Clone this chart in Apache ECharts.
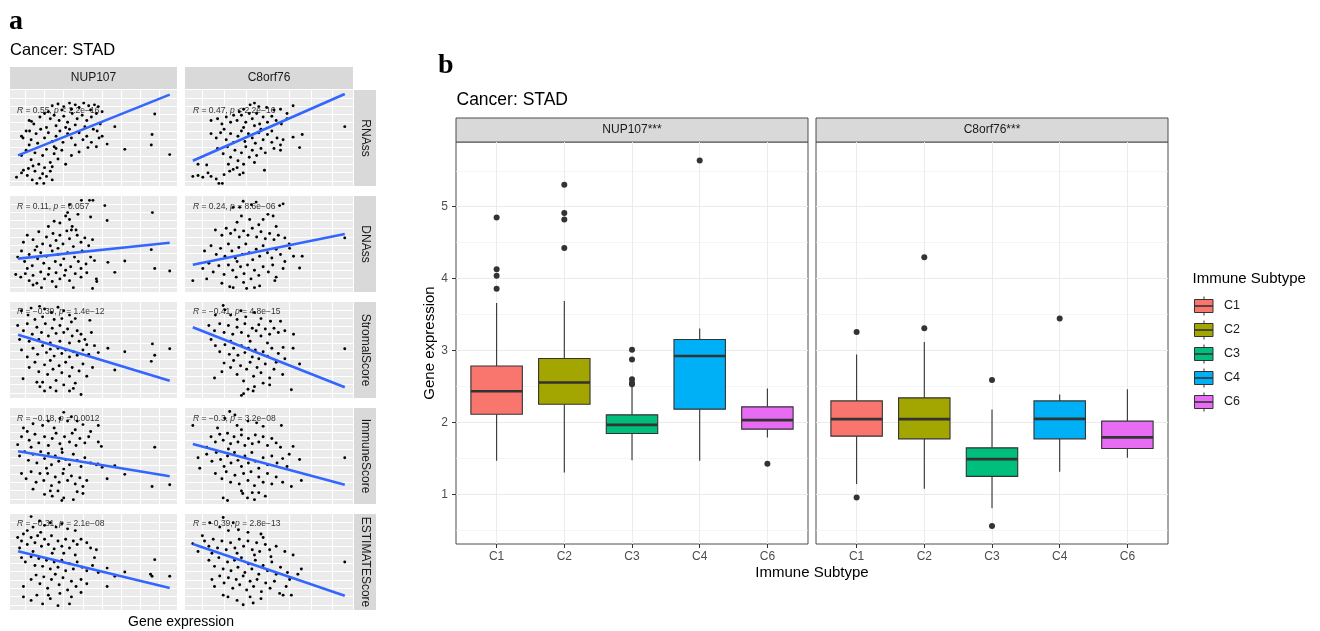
<!DOCTYPE html>
<html><head><meta charset="utf-8">
<script src="https://cdn.jsdelivr.net/npm/echarts@6/dist/echarts.min.js"></script>
<style>html,body{margin:0;padding:0;background:#fff}#c{width:1320px;height:631px}</style>
</head><body><div id="c"></div><script>
const FONT = '"Liberation Sans", Arial, Helvetica, sans-serif';
const SERIF = '"Liberation Serif", "Times New Roman", serif';

// ---------------- Panel a data ----------------
const genes = ['NUP107', 'C8orf76'];
const scores = ['RNAss', 'DNAss', 'StromalScore', 'ImmuneScore', 'ESTIMATEScore'];
const nupCor = ['R = 0.55, p < 2.2e\u221216', 'R = 0.11, p = 0.057', 'R = \u22120.39, p = 1.4e\u221212', 'R = \u22120.18, p = 0.0012', 'R = \u22120.31, p = 2.1e\u221208'];
const c8Cor = ['R = 0.47, p < 2.2e\u221216', 'R = 0.24, p = 8.6e\u221206', 'R = \u22120.41, p = 4.8e\u221215', 'R = \u22120.3, p = 3.2e\u221208', 'R = \u22120.39, p = 2.8e\u221213'];
// linear fit end points (x range, y at start / end) per score row
const nupFitX = [1.21, 5.16];
const c8FitX = [0.18, 3.68];
const nupFitY = [[0.301, 0.997], [0.332, 0.515], [0.675, 0.148], [0.554, 0.267], [0.623, 0.202]];
const c8FitY = [[0.24, 1.004], [0.263, 0.615], [0.76, 0.073], [0.637, 0.171], [0.706, 0.114]];
const nupGridX = [1.4, 1.9, 2.4, 2.9, 3.4, 3.9, 4.4, 4.9];
const c8GridX = [0.4, 0.9, 1.4, 1.9, 2.4, 2.9, 3.4];
const scoreGridY = [0.01, 0.105, 0.2, 0.295, 0.39, 0.485, 0.58, 0.675, 0.77, 0.865, 0.96];

const nupRNAss = [[2.1,0.87],[2.25,0.89],[2.4,0.86],[2.55,0.9],[2.7,0.88],[2.8,0.85],[2.92,0.9],[3.05,0.87],[3.2,0.88],[3.3,0.86],[2.6,0.83],[2.35,0.82],[2.0,0.8],[3.1,0.82],
[1.5,0.7],[1.62,0.66],[1.78,0.74],[1.9,0.78],[2.05,0.72],[2.15,0.76],[2.28,0.7],[2.4,0.75],[2.5,0.68],[2.62,0.78],[2.75,0.72],[2.88,0.76],[3.0,0.7],[3.12,0.74],[3.25,0.78],[3.4,0.8],[2.2,0.64],[2.45,0.62],[2.7,0.65],[2.95,0.63],[1.95,0.62],[3.35,0.66],
[1.3,0.52],[1.42,0.58],[1.55,0.48],[1.68,0.55],[1.8,0.6],[1.9,0.5],[2.0,0.56],[2.1,0.46],[2.2,0.52],[2.3,0.58],[2.38,0.45],[2.5,0.55],[2.6,0.5],[2.7,0.42],[2.8,0.56],[2.9,0.48],[3.0,0.52],[3.12,0.45],[3.25,0.4],[3.4,0.52],[1.5,0.42],[1.72,0.44],[2.15,0.4],[2.55,0.6],[3.17,0.6],[1.34,0.5],[1.51,0.58],[1.56,0.69],
[1.3,0.3],[1.42,0.36],[1.55,0.25],[1.65,0.33],[1.75,0.2],[1.85,0.3],[1.95,0.37],[2.05,0.22],[2.15,0.32],[2.25,0.26],[2.35,0.36],[2.45,0.2],[2.6,0.3],[2.8,0.34],[1.6,0.18],[1.9,0.16],[2.1,0.17],[2.2,0.38],
[1.17,0.05],[1.3,0.1],[1.35,0.13],[1.45,0.07],[1.58,0.02],[1.7,-0.02],[1.78,0.04],[1.85,0.09],[1.88,-0.02],[1.95,0.06],[2.05,0.12],[2.1,0.02],[1.65,0.12],[1.48,0.15],
[4.77,0.775],[4.7,0.54],[4.68,0.42],[5.16,0.31],[3.99,0.37],[3.53,0.43],[3.73,0.63],[3.27,0.58],[3.32,0.5],[3.03,0.39]];

const nupDNAss = [[2.86,1.0],[3.07,1.0],[3.16,1.0],[3.47,0.94],[2.55,0.95],[2.5,0.86],[2.45,0.82],[2.55,0.78],[2.77,0.84],[3.1,0.81],[3.53,0.77],[4.71,0.86],[2.3,0.74],[2.62,0.7],[2.0,0.7],[2.15,0.76],[2.72,0.66],
[1.45,0.6],[1.6,0.55],[1.75,0.64],[1.85,0.5],[1.95,0.58],[2.05,0.48],[2.12,0.62],[2.2,0.54],[2.3,0.6],[2.38,0.5],[2.48,0.65],[2.55,0.56],[2.65,0.47],[2.75,0.6],[2.85,0.52],[2.95,0.57],[3.05,0.48],[3.15,0.55],[1.7,0.47],[2.25,0.45],[2.6,0.66],[1.35,0.52],
[1.2,0.35],[1.3,0.42],[1.38,0.3],[1.5,0.38],[1.58,0.25],[1.65,0.43],[1.72,0.33],[1.8,0.4],[1.88,0.28],[1.95,0.36],[2.02,0.22],[2.1,0.42],[2.18,0.3],[2.25,0.38],[2.32,0.26],[2.4,0.33],[2.5,0.4],[2.58,0.24],[2.68,0.35],[2.78,0.3],[2.88,0.42],[2.98,0.27],[3.1,0.35],[3.2,0.31],[1.45,0.22],[2.45,0.2],[2.85,0.22],[3.55,0.29],[3.99,0.305],[4.68,0.435],
[1.15,0.15],[1.28,0.12],[1.4,0.16],[1.5,0.08],[1.6,0.14],[1.7,0.05],[1.8,0.18],[1.9,0.1],[2.0,0.15],[2.1,0.07],[2.2,0.17],[2.3,0.1],[2.42,0.14],[2.55,0.08],[2.7,0.16],[2.85,0.12],[3.0,0.17],[3.25,0.1],[3.26,0.07],[3.73,0.175],[4.77,0.22],[5.16,0.19],[1.82,0.0],[2.2,0.01],[2.65,0.0],[3.15,-0.01],[1.6,0.03]];

const nupStromal = [[1.3,0.95],[1.47,0.9],[1.55,0.98],[1.77,1.0],[1.9,0.97],[2.08,0.93],[2.25,0.99],[2.4,0.95],[2.55,0.9],[3.08,0.84],[1.65,0.85],[1.85,0.88],[2.15,0.85],[2.35,0.86],[2.6,0.82],[2.7,0.86],
[1.2,0.78],[1.35,0.72],[1.45,0.8],[1.58,0.68],[1.7,0.76],[1.82,0.7],[1.92,0.8],[2.0,0.66],[2.1,0.75],[2.2,0.69],[2.3,0.78],[2.4,0.7],[2.5,0.74],[2.62,0.66],[2.75,0.72],[2.85,0.68],[2.95,0.62],[3.12,0.7],[1.25,0.62],[1.5,0.6],[1.75,0.62],[2.05,0.58],[2.3,0.6],[2.55,0.58],[2.8,0.6],[3.0,0.56],
[1.3,0.5],[1.45,0.42],[1.6,0.52],[1.72,0.45],[1.85,0.55],[1.95,0.47],[2.05,0.51],[2.15,0.43],[2.25,0.52],[2.35,0.46],[2.45,0.5],[2.55,0.42],[2.65,0.48],[2.75,0.44],[2.9,0.5],[3.05,0.45],[3.3,0.47],[3.99,0.48],[4.71,0.57],[5.16,0.515],[3.55,0.52],[3.2,0.55],[4.77,0.44],
[1.34,0.17],[1.5,0.3],[1.65,0.36],[1.75,0.25],[1.85,0.13],[1.9,0.33],[1.98,0.22],[2.05,0.38],[2.12,0.28],[2.2,0.15],[2.28,0.32],[2.35,0.24],[2.45,0.36],[2.55,0.2],[2.62,0.3],[2.7,0.12],[2.8,0.26],[2.9,0.34],[3.0,0.2],[3.15,0.3],[3.73,0.27],[4.68,0.37],[2.4,0.1],[1.7,0.13],
[1.9,0.03],[2.2,0.03],[2.55,0.03],[2.85,-0.01],[1.78,0.08],[2.05,0.07],[2.65,0.06]];

const nupImmune = [[2.4,1.0],[2.6,0.95],[2.3,0.93],[2.5,0.9],[2.0,0.9],[2.75,0.9],[1.6,0.87],[1.35,0.82],[1.45,0.78],[1.85,0.85],[2.15,0.82],[2.9,0.86],[3.3,0.85],[2.7,0.8],[3.1,0.78],
[1.3,0.72],[1.5,0.68],[1.65,0.75],[1.75,0.65],[1.9,0.72],[2.0,0.62],[2.1,0.7],[2.2,0.76],[2.3,0.64],[2.42,0.72],[2.55,0.66],[2.62,0.76],[2.72,0.62],[2.82,0.7],[2.95,0.65],[3.05,0.72],[3.3,0.66],[3.38,0.61],[1.2,0.63],[1.55,0.6],[2.35,0.58],[4.77,0.6],
[1.25,0.5],[1.38,0.55],[1.48,0.45],[1.6,0.52],[1.7,0.42],[1.8,0.55],[1.9,0.47],[2.0,0.53],[2.08,0.4],[2.18,0.5],[2.27,0.44],[2.36,0.54],[2.45,0.46],[2.55,0.4],[2.65,0.52],[2.75,0.45],[2.85,0.38],[2.95,0.48],[3.1,0.42],[3.25,0.4],[3.4,0.37],[3.73,0.39],[3.29,0.41],[1.95,0.36],[2.4,0.35],
[1.3,0.3],[1.42,0.24],[1.55,0.32],[1.68,0.2],[1.78,0.3],[1.88,0.22],[1.98,0.3],[2.08,0.16],[2.18,0.26],[2.28,0.2],[2.38,0.3],[2.5,0.22],[2.6,0.27],[2.7,0.18],[2.82,0.25],[2.9,0.15],[3.0,0.22],[3.53,0.24],[3.99,0.29],[4.7,0.15],[5.16,0.17],[1.6,0.12],[2.25,0.1],
[1.9,0.06],[2.1,0.04],[2.4,0.02],[2.65,0.0],[2.35,-0.01],[2.9,0.07],[2.05,0.1],[2.75,0.09]];

const nupEstimate = [[1.55,1.02],[1.77,0.97],[1.9,0.92],[2.05,0.95],[2.2,0.9],[1.6,0.9],[2.35,0.94],[1.45,0.86],[2.5,0.88],[2.7,0.86],[1.8,0.84],
[1.2,0.78],[1.3,0.74],[1.35,0.82],[1.45,0.7],[1.55,0.78],[1.65,0.72],[1.72,0.8],[1.82,0.68],[1.9,0.76],[2.0,0.7],[2.08,0.8],[2.15,0.65],[2.25,0.74],[2.35,0.68],[2.45,0.76],[2.55,0.66],[2.65,0.74],[2.75,0.7],[2.85,0.76],[3.0,0.72],[3.1,0.66],[3.25,0.64],[1.25,0.66],[1.6,0.62],[2.1,0.6],[2.4,0.6],[2.7,0.58],
[1.3,0.55],[1.4,0.5],[1.55,0.56],[1.65,0.46],[1.75,0.54],[1.85,0.45],[1.95,0.52],[2.05,0.42],[2.15,0.5],[2.25,0.44],[2.35,0.52],[2.45,0.4],[2.55,0.48],[2.65,0.42],[2.75,0.5],[2.88,0.44],[3.0,0.4],[3.15,0.46],[3.3,0.38],[3.53,0.43],[3.99,0.385],[4.77,0.527],[4.7,0.336],[4.66,0.36],[5.16,0.336],[3.73,0.336],[3.2,0.55],
[1.35,0.22],[1.55,0.3],[1.68,0.35],[1.78,0.25],[1.88,0.33],[1.98,0.2],[2.08,0.3],[2.18,0.36],[2.28,0.24],[2.38,0.32],[2.5,0.18],[2.6,0.28],[2.72,0.22],[2.85,0.3],[3.0,0.25],[3.53,0.22],[1.7,0.12],[2.0,0.12],[2.3,0.14],[2.6,0.1],[2.85,0.15],
[1.55,0.06],[1.85,0.02],[2.05,0.08],[2.25,0.0],[2.55,0.02],[1.35,0.1]];

const c8RNAss = [[1.6,0.9],[1.5,0.88],[1.88,0.85],[2.49,0.87],[2.2,0.83],[1.35,0.83],[1.7,0.86],[2.05,0.82],[1.25,0.8],[2.35,0.78],
[0.6,0.7],[0.75,0.72],[0.85,0.66],[0.95,0.74],[1.05,0.68],[1.12,0.76],[1.2,0.7],[1.3,0.76],[1.4,0.68],[1.48,0.78],[1.55,0.72],[1.65,0.78],[1.72,0.66],[1.8,0.74],[1.9,0.68],[2.0,0.75],[2.1,0.7],[2.22,0.66],[2.35,0.72],[1.6,0.64],[1.35,0.62],[0.9,0.6],
[0.6,0.55],[0.72,0.5],[0.82,0.56],[0.95,0.48],[1.05,0.55],[1.12,0.45],[1.22,0.52],[1.3,0.58],[1.38,0.46],[1.46,0.55],[1.55,0.5],[1.62,0.44],[1.7,0.56],[1.8,0.48],[1.9,0.54],[2.0,0.45],[2.12,0.5],[2.2,0.42],[2.26,0.48],[2.49,0.51],[2.7,0.54],[3.68,0.63],[2.0,0.58],[1.75,0.6],
[0.75,0.38],[0.88,0.32],[0.98,0.4],[1.05,0.28],[1.15,0.36],[1.22,0.24],[1.3,0.33],[1.4,0.4],[1.48,0.28],[1.55,0.36],[1.65,0.3],[1.75,0.38],[1.85,0.33],[2.05,0.38],[2.2,0.36],[2.64,0.39],[1.0,0.2],[1.2,0.16],[1.35,0.2],[1.6,0.22],
[0.18,0.06],[0.3,0.07],[0.41,0.05],[0.53,0.1],[0.6,0.06],[0.72,0.03],[0.78,-0.02],[0.86,-0.02],[0.5,0.19],[0.3,0.2],[1.03,0.12],[1.11,0.14],[1.26,0.08],[1.34,0.1],[1.83,0.13],[0.9,0.08]];

const c8DNAss = [[1.34,0.99],[1.53,0.95],[1.64,0.98],[2.18,0.94],[2.26,0.96],[1.11,0.92],[1.26,0.92],[1.91,0.84],[2.03,0.82],[1.3,0.82],[1.49,0.78],[1.8,0.78],[1.2,0.75],[1.7,0.72],[2.1,0.7],
[0.7,0.66],[0.85,0.6],[0.95,0.68],[1.05,0.62],[1.15,0.66],[1.25,0.58],[1.35,0.65],[1.45,0.6],[1.55,0.68],[1.65,0.58],[1.75,0.64],[1.85,0.56],[1.95,0.62],[2.05,0.55],[2.15,0.6],[2.3,0.57],[2.4,0.5],[3.68,0.57],
[0.45,0.42],[0.6,0.48],[0.72,0.38],[0.82,0.45],[0.92,0.36],[1.0,0.5],[1.08,0.42],[1.16,0.34],[1.24,0.46],[1.32,0.38],[1.4,0.5],[1.48,0.4],[1.56,0.32],[1.64,0.44],[1.72,0.36],[1.8,0.48],[1.9,0.4],[2.0,0.34],[2.1,0.44],[2.2,0.38],[2.41,0.45],[2.5,0.36],[2.7,0.36],[2.3,0.3],[1.2,0.3],
[0.41,0.22],[0.55,0.28],[0.65,0.18],[0.78,0.25],[0.9,0.15],[1.0,0.26],[1.1,0.2],[1.18,0.12],[1.28,0.24],[1.36,0.16],[1.44,0.26],[1.52,0.1],[1.6,0.2],[1.7,0.14],[1.8,0.24],[1.92,0.18],[2.02,0.26],[2.26,0.22],[2.64,0.225],[2.1,0.12],[0.18,0.08],[0.5,0.1],
[1.03,0.01],[1.11,0.0],[1.42,-0.01],[1.6,0.0],[1.72,0.02],[2.07,0.08],[1.35,0.06],[0.85,0.05]];

const c8Stromal = [[0.88,1.01],[0.92,0.96],[1.29,0.95],[1.05,0.9],[1.6,0.93],[1.4,0.88],[1.97,0.83],[2.2,0.83],[1.2,0.85],[0.7,0.9],[1.75,0.86],
[0.55,0.78],[0.68,0.72],[0.8,0.8],[0.9,0.7],[1.0,0.78],[1.1,0.68],[1.2,0.76],[1.3,0.7],[1.38,0.8],[1.46,0.66],[1.55,0.75],[1.64,0.72],[1.7,0.79],[1.75,0.66],[1.85,0.74],[1.95,0.68],[2.05,0.75],[2.15,0.7],[2.3,0.72],[2.5,0.68],[0.6,0.62],[1.05,0.6],[1.5,0.6],[1.9,0.58],
[0.7,0.55],[0.8,0.48],[0.92,0.56],[1.02,0.45],[1.12,0.52],[1.22,0.44],[1.3,0.55],[1.38,0.47],[1.46,0.52],[1.55,0.42],[1.62,0.5],[1.7,0.4],[1.8,0.48],[1.9,0.43],[2.0,0.52],[2.15,0.46],[2.3,0.4],[2.49,0.52],[3.68,0.515],[2.26,0.53],[2.64,0.34],[2.1,0.36],
[0.68,0.18],[0.85,0.25],[0.9,0.35],[1.05,0.3],[1.12,0.38],[1.2,0.22],[1.28,0.32],[1.35,0.145],[1.42,0.28],[1.5,0.36],[1.58,0.2],[1.66,0.3],[1.75,0.24],[1.85,0.34],[1.95,0.18],[2.05,0.28],[2.25,0.22],[1.8,0.12],[1.6,0.08],[2.45,0.045],
[1.35,0.0],[1.57,0.03],[1.45,0.05],[1.95,0.1],[1.3,-0.02]];

const c8Immune = [[1.03,1.01],[1.15,0.97],[0.92,0.93],[1.2,0.85],[1.45,0.9],[0.18,0.85],[1.65,0.88],[1.8,0.84],[2.22,0.85],[0.75,0.82],[1.3,0.8],
[0.6,0.72],[0.7,0.66],[0.8,0.75],[0.88,0.68],[0.98,0.76],[1.05,0.64],[1.13,0.72],[1.22,0.66],[1.3,0.74],[1.38,0.62],[1.46,0.7],[1.55,0.64],[1.62,0.74],[1.7,0.66],[1.8,0.72],[1.9,0.62],[2.0,0.7],[2.1,0.65],[2.49,0.61],[0.5,0.6],[2.2,0.6],[1.0,0.58],
[0.3,0.48],[0.34,0.36],[0.5,0.52],[0.62,0.44],[0.72,0.54],[0.82,0.46],[0.9,0.38],[0.98,0.5],[1.06,0.42],[1.14,0.54],[1.22,0.45],[1.3,0.38],[1.38,0.5],[1.46,0.42],[1.54,0.54],[1.62,0.44],[1.7,0.36],[1.8,0.48],[1.9,0.4],[2.0,0.5],[2.12,0.42],[2.25,0.47],[2.35,0.38],[2.64,0.46],[3.68,0.48],[2.4,0.52],
[0.7,0.3],[0.85,0.24],[0.95,0.32],[1.05,0.2],[1.15,0.28],[1.25,0.18],[1.35,0.3],[1.45,0.22],[1.52,0.32],[1.6,0.16],[1.7,0.26],[1.8,0.2],[1.9,0.3],[2.0,0.18],[2.1,0.26],[2.25,0.2],[2.68,0.22],[2.45,0.15],[1.3,0.1],[1.55,0.08],
[0.88,0.02],[0.98,-0.01],[1.44,0.02],[1.6,0.0],[1.33,0.07],[1.85,0.04],[1.7,0.08]];

const c8Estimate = [[0.88,1.01],[0.57,0.95],[1.11,0.95],[1.23,0.87],[0.8,0.9],[1.0,0.86],[1.75,0.82],[1.8,0.78],[1.45,0.84],[0.4,0.8],
[0.18,0.71],[0.3,0.62],[0.45,0.74],[0.55,0.68],[0.65,0.76],[0.75,0.66],[0.85,0.74],[0.95,0.64],[1.05,0.72],[1.15,0.66],[1.25,0.76],[1.35,0.68],[1.45,0.74],[1.55,0.64],[1.65,0.72],[1.72,0.62],[1.85,0.7],[1.95,0.64],[2.1,0.68],[2.49,0.58],[0.62,0.6],[1.2,0.6],[1.6,0.58],[2.3,0.62],
[0.55,0.52],[0.68,0.45],[0.78,0.55],[0.88,0.42],[0.98,0.5],[1.06,0.4],[1.14,0.52],[1.22,0.44],[1.3,0.55],[1.38,0.38],[1.46,0.48],[1.54,0.42],[1.62,0.52],[1.7,0.36],[1.8,0.46],[1.9,0.4],[2.0,0.5],[2.1,0.36],[2.2,0.44],[2.36,0.38],[2.68,0.42],[2.6,0.36],[3.68,0.5],[1.98,0.56],
[0.68,0.22],[0.62,0.3],[0.8,0.34],[0.9,0.26],[1.0,0.32],[1.1,0.2],[1.18,0.3],[1.26,0.24],[1.34,0.34],[1.42,0.18],[1.5,0.28],[1.58,0.22],[1.66,0.3],[1.76,0.16],[1.86,0.26],[1.96,0.2],[2.06,0.28],[2.41,0.3],[2.33,0.22],[2.18,0.14],[2.26,0.12],[2.45,0.12],
[0.88,0.12],[0.99,0.1],[1.34,0.01],[1.57,0.03],[1.75,0.08],[1.2,0.06],[1.5,0.1]];

// ---------------- Panel b data ----------------
const subtypes = ['C1', 'C2', 'C3', 'C4', 'C6'];
const subtypeColors = ['#F8766D', '#A3A500', '#00BF7D', '#00B0F6', '#E76BF3'];
const facets = ['NUP107***', 'C8orf76***'];
// [lower whisker, Q1, median, Q3, upper whisker]
const nupBox = [[1.467, 2.115, 2.435, 2.786, 3.661], [1.305, 2.254, 2.556, 2.889, 3.69], [1.476, 1.847, 1.967, 2.106, 2.495], [1.467, 2.185, 2.925, 3.153, 3.306], [1.792, 1.907, 2.032, 2.217, 2.472]];
const nupOut = [[4.85, 4.13, 4.04, 3.86], [5.306, 4.911, 4.824, 4.425], [3.01, 2.875, 2.6, 2.55, 2.53], [5.643], [1.425]];
const c8Box = [[1.143, 1.81, 2.046, 2.3, 2.944], [1.078, 1.772, 2.046, 2.342, 3.12], [0.806, 1.25, 1.49, 1.647, 2.18], [1.314, 1.772, 2.05, 2.3, 2.389], [1.508, 1.639, 1.792, 2.018, 2.462]];
const c8Out = [[3.258, 0.958], [4.296, 3.31], [2.592, 0.56], [3.444], []];
const bTicks = [1, 2, 3, 4, 5];
const bMinor = [0.5, 1.5, 2.5, 3.5, 4.5, 5.5];

// ---------------- Build ----------------
const grids = [], xAxes = [], yAxes = [], series = [], graphics = [];
const panelData = [[nupRNAss, nupDNAss, nupStromal, nupImmune, nupEstimate], [c8RNAss, c8DNAss, c8Stromal, c8Immune, c8Estimate]];
const colCfg = [
  {left: 10, width: 167, min: 1, max: 5.35, gx: nupGridX, fitX: nupFitX, fitY: nupFitY, cor: nupCor, textX: 17},
  {left: 185, width: 168, min: 0, max: 3.87, gx: c8GridX, fitX: c8FitX, fitY: c8FitY, cor: c8Cor, textX: 193}
];
const rowTops = [90, 196, 302, 408, 514], rowH = 96, corDy = [21, 10.5, 10, 10.5, 10];

function corRich(s) { return s.replace(/^R/, '{i|R}').replace(', p', ', {i|p}'); }
function txt(x, y, text, size, opts) {
  opts = opts || {};
  const el = {type: 'text', x: x, y: y, z: opts.z != null ? opts.z : 5, rotation: opts.rotation || 0,
    style: {text: text, fontSize: size, fontFamily: opts.family || FONT, fontWeight: opts.weight || 'normal',
      fill: opts.color || '#1a1a1a', textAlign: opts.align || 'left', align: opts.align || 'left',
      textVerticalAlign: 'middle', verticalAlign: 'middle', rich: opts.rich}};
  graphics.push(el);
}

for (let r = 0; r < 5; r++) {
  for (let c = 0; c < 2; c++) {
    const cfg = colCfg[c];
    const idx = grids.length;
    grids.push({left: cfg.left, top: rowTops[r], width: cfg.width, height: rowH, show: true, backgroundColor: '#EBEBEB', borderWidth: 0});
    xAxes.push({gridIndex: idx, type: 'value', min: cfg.min, max: cfg.max, axisLine: {show: false},
      axisTick: {show: false, customValues: cfg.gx}, axisLabel: {show: false, customValues: cfg.gx},
      splitLine: {show: true, lineStyle: {color: '#ffffff', width: 1}}});
    yAxes.push({gridIndex: idx, type: 'value', min: -0.05, max: 1.05, axisLine: {show: false},
      axisTick: {show: false, customValues: scoreGridY}, axisLabel: {show: false, customValues: scoreGridY},
      splitLine: {show: true, lineStyle: {color: '#ffffff', width: 1}}});
    series.push({type: 'scatter', xAxisIndex: idx, yAxisIndex: idx, data: panelData[c][r], symbolSize: 2.9,
      itemStyle: {color: '#000000', opacity: 1}, silent: true, z: 2});
    series.push({type: 'line', xAxisIndex: idx, yAxisIndex: idx,
      data: [[cfg.fitX[0], cfg.fitY[r][0]], [cfg.fitX[1], cfg.fitY[r][1]]],
      symbol: 'none', lineStyle: {color: '#3366FF', width: 2.6}, silent: true, z: 3});
    txt(cfg.textX, rowTops[r] + corDy[r], corRich(cfg.cor[r]), 8.5, {color: '#333333', z: 1, rich: {i: {fontStyle: 'italic', fontSize: 8.5, fontFamily: FONT, fill: '#333333'}}});
  }
}

// strips panel a
colCfg.forEach((cfg, c) => {
  graphics.push({type: 'rect', shape: {x: cfg.left, y: 67, width: cfg.width, height: 22}, style: {fill: '#D9D9D9'}});
  txt(cfg.left + cfg.width / 2, 78, genes[c], 12, {align: 'center'});
});
rowTops.forEach((t, r) => {
  graphics.push({type: 'rect', shape: {x: 354, y: t, width: 22, height: rowH}, style: {fill: '#D9D9D9'}});
  txt(365, t + rowH / 2, scores[r], 12, {align: 'center', rotation: -Math.PI / 2});
});
txt(9, 22, 'a', 28, {family: SERIF, weight: 'bold', color: '#000'});
txt(10, 50, 'Cancer: STAD', 16.5, {color: '#000'});
txt(181, 622, 'Gene expression', 14, {align: 'center', color: '#000'});

// ---------------- panel b ----------------
const BOX_W = 0.76;
function boxRender(params, api) {
  const x = api.value(0);
  const lw = api.value(1), q1 = api.value(2), md = api.value(3), q3 = api.value(4), uw = api.value(5);
  const hw = BOX_W / 2;
  const pUw = api.coord([x, uw]), pQ3 = api.coord([x, q3]), pQ1 = api.coord([x, q1]), pLw = api.coord([x, lw]);
  const tl = api.coord([x - hw, q3]), br = api.coord([x + hw, q1]);
  const ml = api.coord([x - hw, md]), mr = api.coord([x + hw, md]);
  const color = subtypeColors[Math.round(x) - 1];
  return {type: 'group', children: [
    {type: 'line', shape: {x1: pUw[0], y1: pUw[1], x2: pQ3[0], y2: pQ3[1]}, style: {stroke: '#333333', lineWidth: 1.1}},
    {type: 'line', shape: {x1: pLw[0], y1: pLw[1], x2: pQ1[0], y2: pQ1[1]}, style: {stroke: '#333333', lineWidth: 1.1}},
    {type: 'rect', shape: {x: tl[0], y: tl[1], width: br[0] - tl[0], height: br[1] - tl[1]}, style: {fill: color, stroke: '#333333', lineWidth: 1.1}},
    {type: 'line', shape: {x1: ml[0], y1: ml[1], x2: mr[0], y2: mr[1]}, style: {stroke: '#333333', lineWidth: 2.6}}
  ]};
}
const bPanels = [{left: 456, box: nupBox, out: nupOut}, {left: 816, box: c8Box, out: c8Out}];
bPanels.forEach((p, k) => {
  const gi = grids.length;
  grids.push({left: p.left, top: 142, width: 352, height: 402, show: true, backgroundColor: '#ffffff', borderColor: '#4d4d4d', borderWidth: 1});
  const xi = xAxes.length;
  xAxes.push({gridIndex: gi, type: 'value', min: 0.4, max: 5.6, axisLine: {show: false},
    axisTick: {show: true, length: 4, customValues: bTicks, lineStyle: {color: '#333333', width: 1}},
    axisLabel: {show: true, customValues: bTicks, formatter: v => subtypes[Math.round(v) - 1], color: '#4D4D4D', fontSize: 12, fontFamily: FONT, margin: 7},
    splitLine: {show: true, lineStyle: {color: '#EBEBEB', width: 1}}});
  const yi = yAxes.length;
  yAxes.push({gridIndex: gi, type: 'value', min: 0.31, max: 5.9, position: 'left', axisLine: {show: false},
    axisTick: {show: k === 0, length: 4, customValues: bTicks, lineStyle: {color: '#333333', width: 1}},
    axisLabel: {show: k === 0, customValues: bTicks, color: '#4D4D4D', fontSize: 12, fontFamily: FONT, margin: 8},
    splitLine: {show: true, lineStyle: {color: '#EBEBEB', width: 1}}});
  yAxes.push({gridIndex: gi, type: 'value', min: 0.31, max: 5.9, position: 'left', axisLine: {show: false},
    axisTick: {show: false, customValues: bMinor}, axisLabel: {show: false, customValues: bMinor},
    splitLine: {show: true, lineStyle: {color: '#F0F0F0', width: 0.7}}});
  series.push({type: 'custom', xAxisIndex: xi, yAxisIndex: yi, renderItem: boxRender,
    data: p.box.map((s, i) => [i + 1].concat(s)), encode: {x: 0, y: [1, 2, 3, 4, 5]}, silent: true, z: 3});
  const outs = [];
  p.out.forEach((arr, i) => arr.forEach(v => outs.push([i + 1, v])));
  series.push({type: 'scatter', xAxisIndex: xi, yAxisIndex: yi, data: outs, symbolSize: 6, itemStyle: {color: '#333333', opacity: 1}, silent: true, z: 4});
  graphics.push({type: 'rect', shape: {x: p.left, y: 118, width: 352, height: 24}, style: {fill: '#D9D9D9', stroke: '#4d4d4d', lineWidth: 1}});
  txt(p.left + 176, 130, facets[k], 12, {align: 'center'});
});
txt(438, 66, 'b', 28, {family: SERIF, weight: 'bold', color: '#000'});
txt(456.5, 100.5, 'Cancer: STAD', 17.5, {color: '#000'});
txt(812, 573, 'Immune Subtype', 15, {align: 'center', color: '#000'});
txt(430, 343, 'Gene expression', 15, {align: 'center', color: '#000', rotation: Math.PI / 2});

// legend
txt(1192.5, 279, 'Immune Subtype', 15, {color: '#000'});
subtypes.forEach((s, i) => {
  const cy = 306 + i * 24;
  graphics.push({type: 'line', shape: {x1: 1204, y1: cy - 9.5, x2: 1204, y2: cy + 9.5}, style: {stroke: '#333333', lineWidth: 1}});
  graphics.push({type: 'rect', shape: {x: 1194.5, y: cy - 6.5, width: 18.5, height: 13}, style: {fill: subtypeColors[i], stroke: '#333333', lineWidth: 1}});
  graphics.push({type: 'line', shape: {x1: 1194.5, y1: cy, x2: 1213, y2: cy}, style: {stroke: '#333333', lineWidth: 1.6}});
  txt(1224, cy, s, 12.5, {color: '#1a1a1a'});
});

const chart = echarts.init(document.getElementById('c'), null, {renderer: 'canvas'});
chart.setOption({
  animation: false,
  backgroundColor: '#ffffff',
  grid: grids, xAxis: xAxes, yAxis: yAxes, series: series,
  graphic: {elements: graphics}
});
</script></body></html>
